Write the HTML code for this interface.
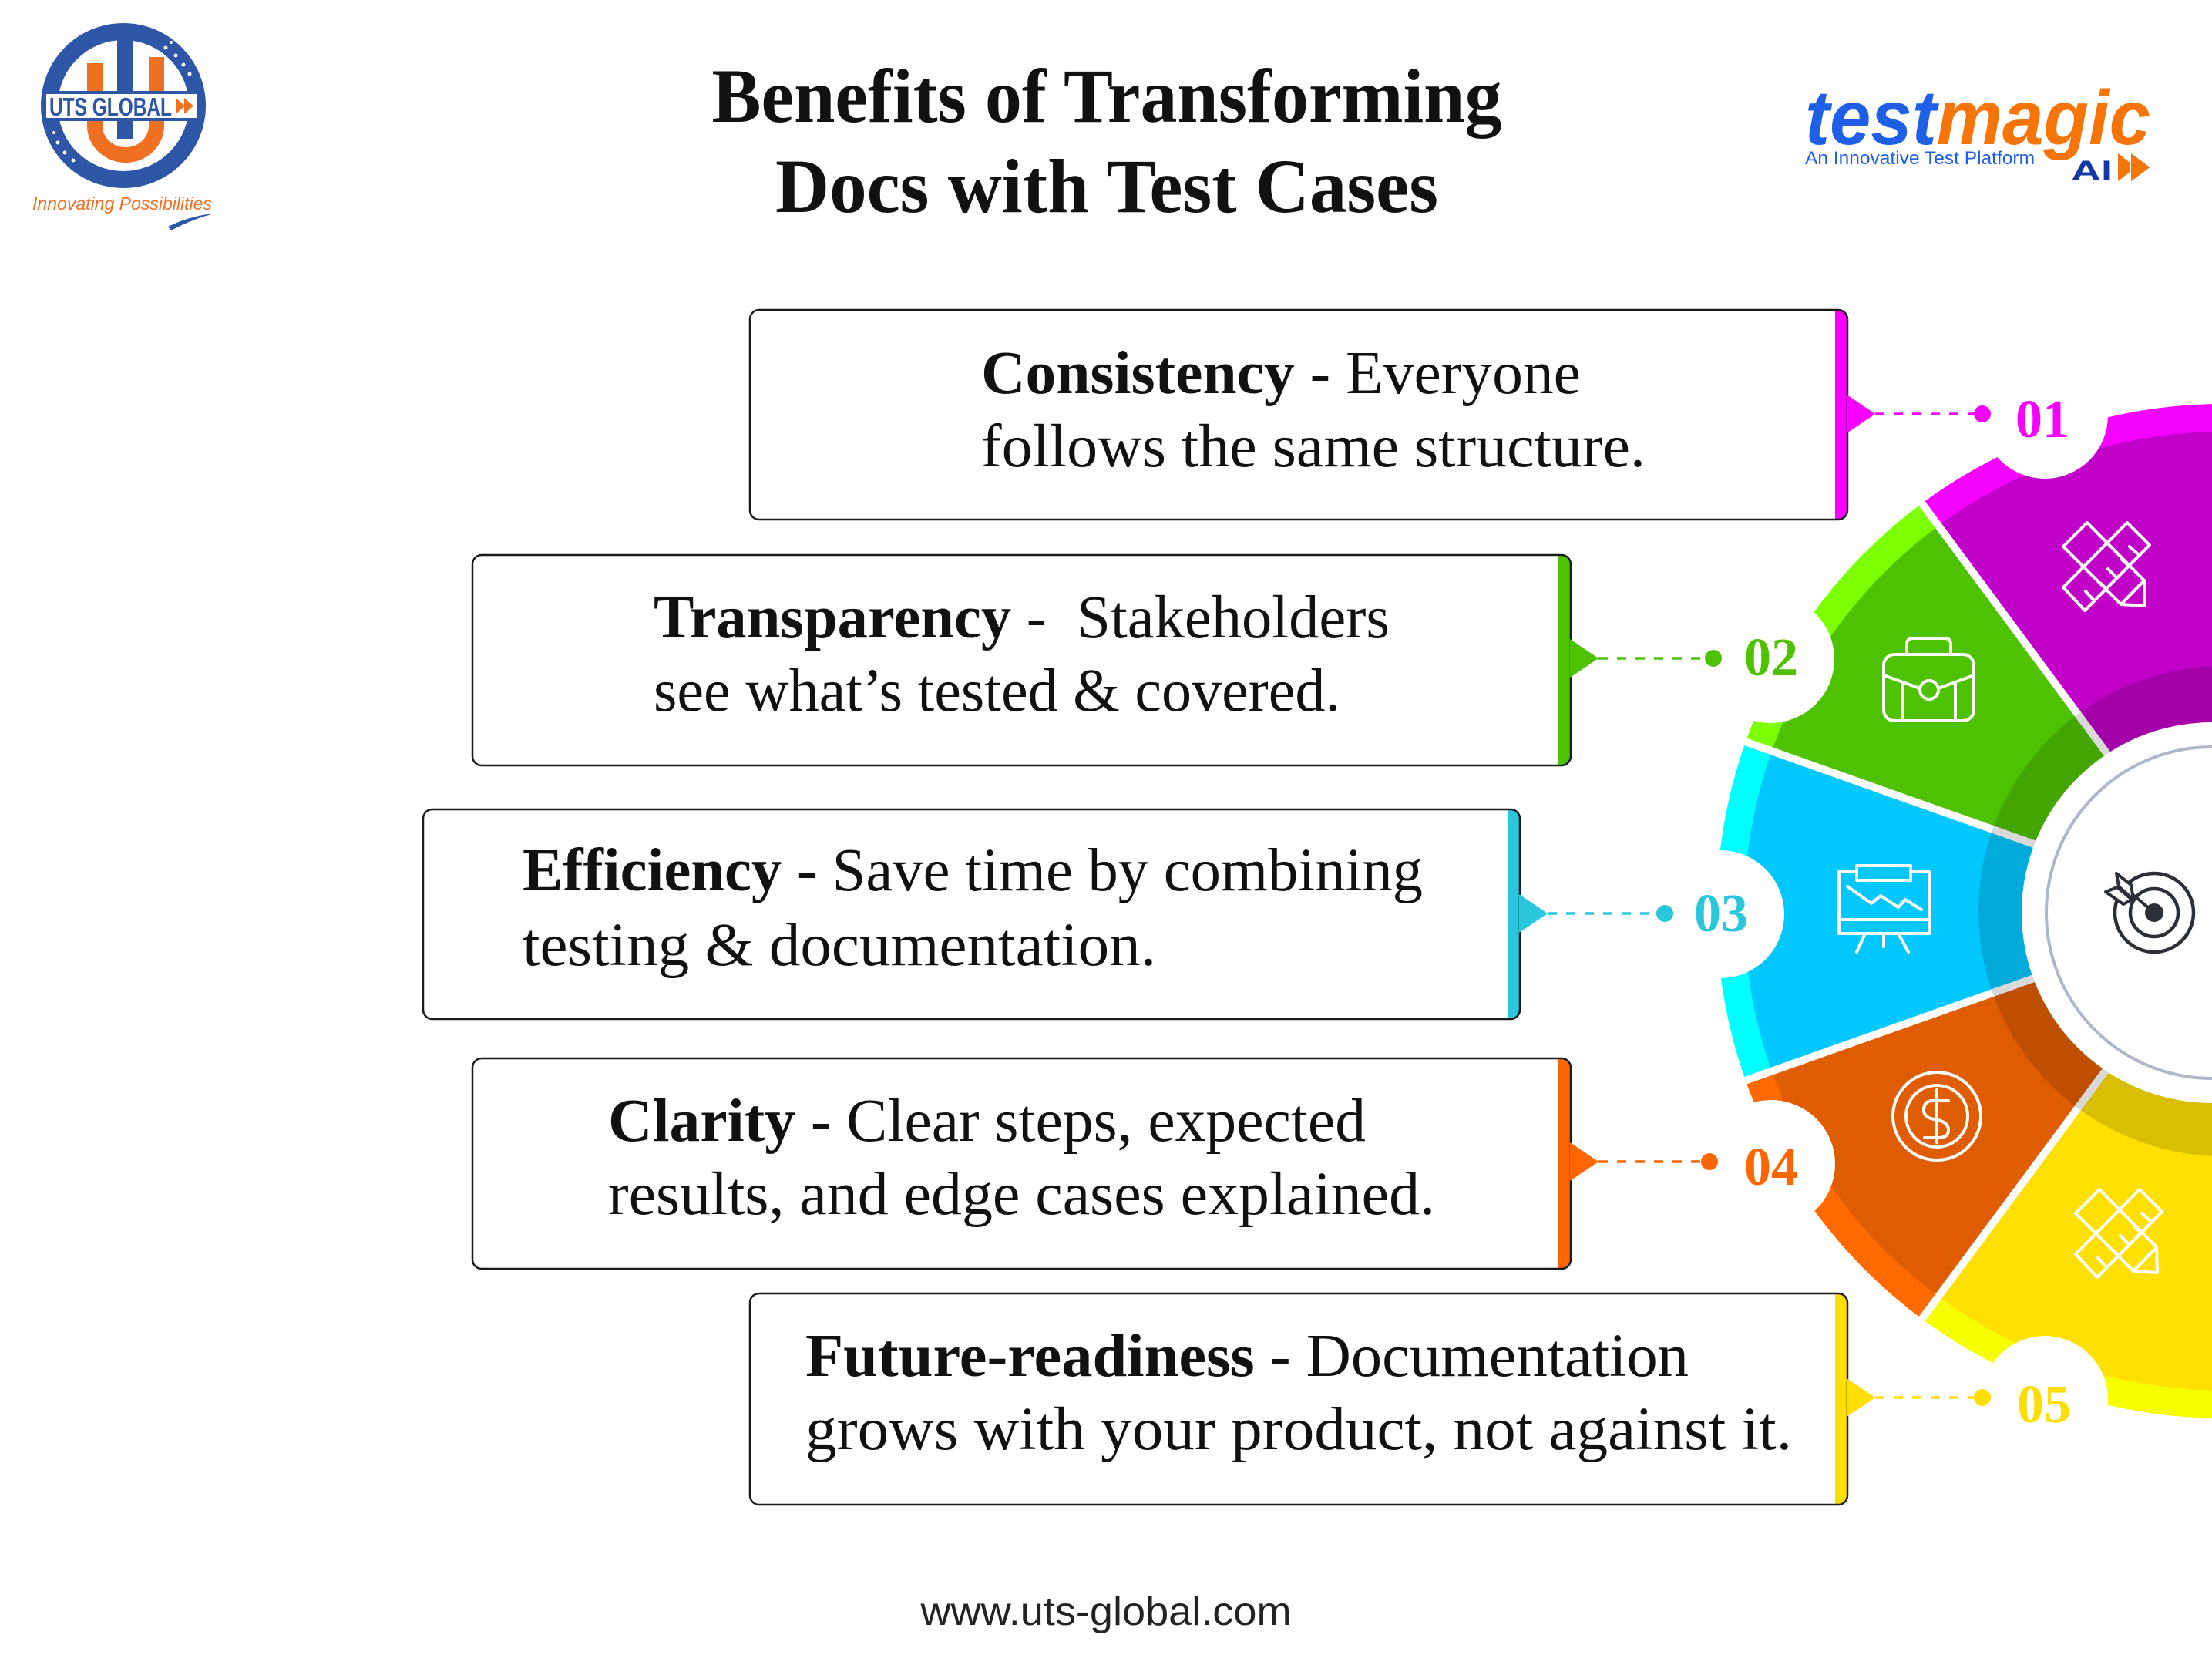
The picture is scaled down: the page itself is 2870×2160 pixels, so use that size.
<!DOCTYPE html>
<html><head><meta charset="utf-8">
<style>
html,body{margin:0;padding:0;background:#fff;}
svg{display:block;}
.bx{font-family:"Liberation Serif",serif;font-size:79px;fill:#111;white-space:pre;}
.num{font-family:"Liberation Serif",serif;font-weight:bold;font-size:70px;text-anchor:middle;}
</style></head>
<body>
<svg width="2870" height="2160" viewBox="0 0 2870 2160" xmlns="http://www.w3.org/2000/svg">
<rect x="0" y="0" width="2870" height="2160" fill="#fff"/>

<!-- ===== UTS GLOBAL logo ===== -->
<circle cx="160" cy="137" r="96" fill="none" stroke="#2e56a6" stroke-width="22"/>
<g fill="#fff">
<circle cx="215" cy="62" r="2.5"/><circle cx="228" cy="72" r="2.5"/><circle cx="238" cy="84" r="2.5"/><circle cx="246" cy="96" r="2.5"/><circle cx="222" cy="55" r="2"/>
<circle cx="75" cy="185" r="2.5"/><circle cx="84" cy="198" r="2.5"/><circle cx="95" cy="208" r="2.5"/><circle cx="70" cy="172" r="2"/>
</g>
<rect x="152" y="52" width="20" height="128" fill="#2e56a6"/>
<path d="M123,82 V163 A40,38 0 0 0 203,163 V74" fill="none" stroke="#f07022" stroke-width="20"/>
<rect x="58" y="120" width="200" height="35" rx="3" fill="#fff" stroke="#2e56a6" stroke-width="4"/>
<text x="64" y="150" font-family="Liberation Sans, sans-serif" font-weight="bold" font-size="33" fill="#2e56a6" textLength="159" lengthAdjust="spacingAndGlyphs">UTS GLOBAL</text>
<polygon points="228,127 240,137.5 228,148" fill="#f07022"/>
<polygon points="239,127 251,137.5 239,148" fill="#f07022"/>
<text x="42" y="272" font-family="Liberation Sans, sans-serif" font-style="italic" font-size="23" fill="#f07022" textLength="233" lengthAdjust="spacingAndGlyphs">Innovating Possibilities</text>
<path d="M218,294 Q246,280 278,277 Q250,284 222,299 Z" fill="#2e56a6"/>

<!-- ===== testmagic logo ===== -->
<text x="2342" y="187" font-family="Liberation Sans, sans-serif" font-weight="bold" font-style="italic" font-size="100" textLength="448" lengthAdjust="spacingAndGlyphs"><tspan fill="#1e5fe6">test</tspan><tspan fill="#f77408">magic</tspan></text>
<text x="2342" y="213" font-family="Liberation Sans, sans-serif" font-size="24" fill="#1e5fe6" textLength="298" lengthAdjust="spacingAndGlyphs">An Innovative Test Platform</text>
<text x="2687" y="234" font-family="Liberation Sans, sans-serif" font-weight="bold" font-size="37" fill="#1238a8" textLength="54" lengthAdjust="spacingAndGlyphs">AI</text>
<polygon points="2747,197 2773,217 2747,237" fill="#f77408" stroke="#fff" stroke-width="2"/>
<polygon points="2764,197 2791,217 2764,237" fill="#f77408" stroke="#fff" stroke-width="2"/>

<!-- ===== Title ===== -->
<text x="1436" y="158" text-anchor="middle" font-family="Liberation Serif, serif" font-weight="bold" font-size="100" fill="#111" textLength="1025" lengthAdjust="spacingAndGlyphs">Benefits of Transforming</text>
<text x="1436" y="275" text-anchor="middle" font-family="Liberation Serif, serif" font-weight="bold" font-size="100" fill="#111" textLength="860" lengthAdjust="spacingAndGlyphs">Docs with Test Cases</text>

<!-- ===== Wheel ===== -->
<path d="M2885,1182 L2493.6,653.0 A658,658 0 0 1 2999.2,534.0 Z" fill="#f600ff"/>
<path d="M2885,1182 L2264.8,962.4 A658,658 0 0 1 2493.6,653.0 Z" fill="#7cff00"/>
<path d="M2885,1182 L2264.8,1401.6 A658,658 0 0 1 2264.8,962.4 Z" fill="#00ffff"/>
<path d="M2885,1182 L2493.6,1711.0 A658,658 0 0 1 2264.8,1401.6 Z" fill="#ff6a00"/>
<path d="M2885,1182 L2999.2,1830.0 A658,658 0 0 1 2493.6,1711.0 Z" fill="#f5ff00"/>
<path d="M2885,1182 L2515.0,682.0 A622,622 0 0 1 2993.0,569.5 Z" fill="#c100c8"/>
<path d="M2885,1182 L2298.7,974.4 A622,622 0 0 1 2515.0,682.0 Z" fill="#4fc200"/>
<path d="M2885,1182 L2298.7,1389.6 A622,622 0 0 1 2298.7,974.4 Z" fill="#00c8ff"/>
<path d="M2885,1182 L2515.0,1682.0 A622,622 0 0 1 2298.7,1389.6 Z" fill="#e05c00"/>
<path d="M2885,1182 L2993.0,1794.5 A622,622 0 0 1 2515.0,1682.0 Z" fill="#ffe000"/>
<g stroke="#fff" stroke-width="10">
<line x1="2885" y1="1182" x2="2468.6" y2="1744.7"/>
<line x1="2885" y1="1182" x2="2225.2" y2="1415.7"/>
<line x1="2885" y1="1182" x2="2225.2" y2="948.3"/>
<line x1="2885" y1="1182" x2="2468.6" y2="619.3"/>
</g>
<circle cx="2885" cy="1182" r="270" fill="none" stroke="rgba(0,0,0,0.15)" stroke-width="96"/>
<circle cx="2870" cy="1184" r="247" fill="#fff"/>
<circle cx="2870" cy="1184" r="215" fill="none" stroke="#aeb6c8" stroke-width="4"/>
<g stroke="#2a2f38" stroke-width="4.5" fill="none">
<circle cx="2795" cy="1184" r="51"/>
<circle cx="2795" cy="1184" r="31"/>
<line x1="2795" y1="1184" x2="2756" y2="1151" stroke-width="4"/>
<polygon points="2746,1133 2765,1148 2768,1167 2749,1150" fill="#fff" stroke-width="4" stroke-linejoin="round"/>
<polygon points="2732,1157 2747,1151 2766,1167 2755,1173" fill="#fff" stroke-width="4" stroke-linejoin="round"/>
</g>
<circle cx="2795" cy="1184" r="12" fill="#2a2f38"/>

<g stroke="#fff" stroke-width="4" fill="none" stroke-linejoin="round" stroke-linecap="round">
  <g transform="translate(2677,678)">
    <polygon points="83,0 112,29 28,114 0,84"/>
    <polygon points="31,0 105,75 106,108 75,106 0,31"/>
    <line x1="75" y1="106" x2="105" y2="75"/>
    <line x1="96" y1="40" x2="86" y2="31"/>
    <line x1="85" y1="56" x2="76" y2="48"/>
    <line x1="68" y1="70" x2="58" y2="60"/>
    <line x1="56" y1="86" x2="49" y2="79"/>
    <line x1="38" y1="99" x2="29" y2="89"/>
  </g>
  <g transform="translate(2693,1543)">
    <polygon points="83,0 112,29 28,114 0,84"/>
    <polygon points="31,0 105,75 106,108 75,106 0,31"/>
    <line x1="75" y1="106" x2="105" y2="75"/>
    <line x1="96" y1="40" x2="86" y2="31"/>
    <line x1="85" y1="56" x2="76" y2="48"/>
    <line x1="68" y1="70" x2="58" y2="60"/>
    <line x1="56" y1="86" x2="49" y2="79"/>
    <line x1="38" y1="99" x2="29" y2="89"/>
  </g>
  <rect x="2444" y="849" width="117" height="86" rx="14"/>
  <path d="M2474,849 V836 Q2474,828 2482,828 H2523 Q2531,828 2531,836 V849"/>
  <path d="M2444,876 L2491,893"/>
  <path d="M2515,893 L2561,876"/>
  <circle cx="2503" cy="895" r="12"/>
  <path d="M2468,885 V935 M2537,885 V935"/>
  <rect x="2386" y="1131" width="117" height="80"/>
  <rect x="2409" y="1123" width="70" height="19" fill="#00c8ff"/>
  <line x1="2386" y1="1193" x2="2503" y2="1193"/>
  <polyline points="2397,1150 2428,1172 2440,1162 2463,1177 2472,1167 2493,1180"/>
  <path d="M2420,1211 L2409,1235 M2444,1211 V1228 M2463,1211 L2476,1235"/>
  <circle cx="2513" cy="1448" r="57"/>
  <circle cx="2513" cy="1448" r="40"/>
  <path d="M2513,1414 V1482"/>
  <path d="M2528,1428 H2508 Q2496,1428 2496,1440 Q2496,1450 2510,1452 Q2528,1455 2528,1466 Q2528,1476 2515,1476 H2497"/>
</g>

<g fill="#fff">
<circle cx="2653" cy="539" r="82"/>
<circle cx="2297" cy="855" r="83"/>
<circle cx="2232" cy="1186" r="83"/>
<circle cx="2298" cy="1510" r="83"/>
<circle cx="2653" cy="1815" r="82"/>
</g>

<text class="num" x="2650" y="567" fill="#f600ff">01</text>
<text class="num" x="2298" y="876" fill="#4fc200">02</text>
<text class="num" x="2233" y="1208" fill="#29c6dc">03</text>
<text class="num" x="2298" y="1537" fill="#ff6600">04</text>
<text class="num" x="2652" y="1845" fill="#ffdd00">05</text>

<g stroke-width="3.5" stroke-dasharray="12 12" fill="none">
<line x1="2433" y1="537" x2="2562" y2="537" stroke="#f600ff"/>
<line x1="2074" y1="854" x2="2213" y2="854" stroke="#4fc200"/>
<line x1="2008" y1="1185" x2="2150" y2="1185" stroke="#29c6dc"/>
<line x1="2074" y1="1507" x2="2208" y2="1507" stroke="#ff6600"/>
<line x1="2433" y1="1813" x2="2562" y2="1813" stroke="#ffdd00"/>
</g>
<circle cx="2572" cy="537" r="11" fill="#f600ff"/>
<circle cx="2223" cy="854" r="11" fill="#4fc200"/>
<circle cx="2160" cy="1185" r="11" fill="#29c6dc"/>
<circle cx="2218" cy="1507" r="11" fill="#ff6600"/>
<circle cx="2572" cy="1813" r="11" fill="#ffdd00"/>

<!-- Box 1 -->
<rect x="973" y="402" width="1424" height="272" rx="12" fill="#fff"/>
<path d="M2381,402 H2385 A12,12 0 0 1 2397,414 V662 A12,12 0 0 1 2385,674 H2381 Z" fill="#f600ff"/>
<rect x="973" y="402" width="1424" height="272" rx="12" fill="none" stroke="#1a1a1a" stroke-width="2.5"/>
<polygon points="2396,512 2433,537 2396,562" fill="#f600ff"/>
<text class="bx" x="1273" y="510" textLength="778" lengthAdjust="spacingAndGlyphs"><tspan font-weight="bold">Consistency</tspan> - Everyone</text>
<text class="bx" x="1273" y="605" textLength="862" lengthAdjust="spacingAndGlyphs">follows the same structure.</text>

<!-- Box 2 -->
<rect x="613" y="720" width="1425" height="273" rx="12" fill="#fff"/>
<path d="M2022,720 H2026 A12,12 0 0 1 2038,732 V981 A12,12 0 0 1 2026,993 H2022 Z" fill="#4fc200"/>
<rect x="613" y="720" width="1425" height="273" rx="12" fill="none" stroke="#1a1a1a" stroke-width="2.5"/>
<polygon points="2037,829 2074,854 2037,879" fill="#4fc200"/>
<text class="bx" x="848" y="827" textLength="955" lengthAdjust="spacingAndGlyphs"><tspan font-weight="bold">Transparency</tspan> -  Stakeholders</text>
<text class="bx" x="848" y="922" textLength="891" lengthAdjust="spacingAndGlyphs">see what’s tested &amp; covered.</text>

<!-- Box 3 -->
<rect x="549" y="1050" width="1423" height="272" rx="12" fill="#fff"/>
<path d="M1956,1050 H1960 A12,12 0 0 1 1972,1062 V1310 A12,12 0 0 1 1960,1322 H1956 Z" fill="#29c6dc"/>
<rect x="549" y="1050" width="1423" height="272" rx="12" fill="none" stroke="#1a1a1a" stroke-width="2.5"/>
<polygon points="1971,1160 2008,1185 1971,1210" fill="#29c6dc"/>
<text class="bx" x="678" y="1155" textLength="1168" lengthAdjust="spacingAndGlyphs"><tspan font-weight="bold">Efficiency</tspan> - Save time by combining</text>
<text class="bx" x="678" y="1252" textLength="822" lengthAdjust="spacingAndGlyphs">testing &amp; documentation.</text>

<!-- Box 4 -->
<rect x="613" y="1373" width="1425" height="273" rx="12" fill="#fff"/>
<path d="M2022,1373 H2026 A12,12 0 0 1 2038,1385 V1634 A12,12 0 0 1 2026,1646 H2022 Z" fill="#ff6600"/>
<rect x="613" y="1373" width="1425" height="273" rx="12" fill="none" stroke="#1a1a1a" stroke-width="2.5"/>
<polygon points="2037,1482 2074,1507 2037,1532" fill="#ff6600"/>
<text class="bx" x="789" y="1480" textLength="983" lengthAdjust="spacingAndGlyphs"><tspan font-weight="bold">Clarity</tspan> - Clear steps, expected</text>
<text class="bx" x="789" y="1575" textLength="1073" lengthAdjust="spacingAndGlyphs">results, and edge cases explained.</text>

<!-- Box 5 -->
<rect x="973" y="1678" width="1424" height="274" rx="12" fill="#fff"/>
<path d="M2381,1678 H2385 A12,12 0 0 1 2397,1690 V1940 A12,12 0 0 1 2385,1952 H2381 Z" fill="#ffdf00"/>
<rect x="973" y="1678" width="1424" height="274" rx="12" fill="none" stroke="#1a1a1a" stroke-width="2.5"/>
<polygon points="2396,1788 2433,1813 2396,1838" fill="#ffdf00"/>
<text class="bx" x="1045" y="1785" textLength="1146" lengthAdjust="spacingAndGlyphs"><tspan font-weight="bold">Future-readiness</tspan> - Documentation</text>
<text class="bx" x="1045" y="1880" textLength="1280" lengthAdjust="spacingAndGlyphs">grows with your product, not against it.</text>

<text x="1435" y="2108" text-anchor="middle" font-family="Liberation Sans, sans-serif" font-size="52" fill="#222" textLength="481" lengthAdjust="spacingAndGlyphs">www.uts-global.com</text>
</svg>
</body></html>
